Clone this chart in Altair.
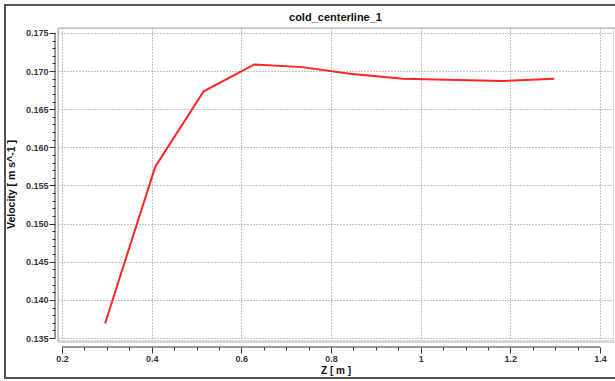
import altair as alt
import pandas as pd

# Centerline velocity samples along Z
z_m = [0.296, 0.408, 0.516, 0.629, 0.736, 0.842, 0.961, 1.181, 1.298]
velocity = [0.1369, 0.15747, 0.16735, 0.17087, 0.17052, 0.16966, 0.16901, 0.16869, 0.16901]

# Axis tick positions (major labelled ticks)
x_major = [0.2, 0.4, 0.6, 0.8, 1.0, 1.2, 1.4]
y_major = [0.135, 0.140, 0.145, 0.150, 0.155, 0.160, 0.165, 0.170, 0.175]

# minor ticks: 4 subdivisions on x, 5 on y
x_ticks = [round(x_major[0] + 0.05 * i, 2) for i in range(25)]
y_ticks = [round(y_major[0] + 0.001 * i, 3) for i in range(41)]

W, H = 555, 312
FONT = "Liberation Sans"
LABEL_COLOR = "#333344"

df = pd.DataFrame({"z": z_m, "v": velocity})

x_is_major = "abs(datum.value * 5 - round(datum.value * 5)) < 0.001"
y_is_major = "abs(datum.value * 200 - round(datum.value * 200)) < 0.001"

x_axis = alt.Axis(
    values=x_ticks,
    format="~g",
    labelExpr=f"{x_is_major} ? datum.label : ''",
    tickSize={"condition": {"test": x_is_major, "value": 6}, "value": 3},
    gridOpacity={"condition": {"test": x_is_major, "value": 1}, "value": 0},
    grid=True,
    gridColor="#888888",
    gridDash=[1, 2],
    gridWidth=1,
    domain=False,
    tickColor="#333333",
    offset=7,
    labelPadding=1,
    labelFont=FONT,
    labelFontSize=9,
    labelFontWeight="bold",
    labelColor=LABEL_COLOR,
    labelFlush=False,
    labelOverlap=False,
    title="Z [ m ]",
    titleFont=FONT,
    titleFontSize=10,
    titleFontWeight="bold",
    titleColor="#111111",
    titlePadding=2,
)

y_axis = alt.Axis(
    values=y_ticks,
    format=".3f",
    labelExpr=f"{y_is_major} ? datum.label : ''",
    tickSize={"condition": {"test": y_is_major, "value": 6}, "value": 3},
    gridOpacity={"condition": {"test": y_is_major, "value": 1}, "value": 0},
    grid=True,
    gridColor="#888888",
    gridDash=[1, 2],
    gridWidth=1,
    domain=False,
    tickColor="#333333",
    offset=3,
    labelPadding=1,
    labelFont=FONT,
    labelFontSize=9,
    labelFontWeight="bold",
    labelColor=LABEL_COLOR,
    labelFlush=False,
    labelOverlap=False,
    title="Velocity [ m s^-1 ]",
    titleFont=FONT,
    titleFontSize=10.5,
    titleFontWeight="bold",
    titleColor="#111111",
    titlePadding=9,
)

x_scale = alt.Scale(domain=[0.191, 1.429], nice=False, zero=False)
y_scale = alt.Scale(domain=[0.13474, 0.17565], nice=False, zero=False)

# outer window border (right side runs off the canvas)
outer = alt.Chart(alt.Data(values=[{}])).mark_rect(
    fill=None, fillOpacity=0, stroke="#555555", strokeWidth=2
).encode(
    x=alt.value(-53), x2=alt.value(W + 20),
    y=alt.value(-23), y2=alt.value(H + 38),
)

# light frame around the plotting area
frame = alt.Chart(alt.Data(values=[{}])).mark_rect(
    fill=None, fillOpacity=0, stroke="#aaaaaa", strokeWidth=1
).encode(
    x=alt.value(0), x2=alt.value(W + 10),
    y=alt.value(0), y2=alt.value(H + 2),
)

curve = alt.Chart(df).mark_line(color="#ff2424", strokeWidth=2).encode(
    x=alt.X("z:Q", scale=x_scale, axis=x_axis),
    y=alt.Y("v:Q", scale=y_scale, axis=y_axis),
)

# axis lines spanning the labelled tick range only
x_line = alt.Chart(pd.DataFrame({"z": [x_major[0]], "z2": [x_major[-1]]})).mark_rule(
    color="#333333", strokeWidth=1
).encode(x=alt.X("z:Q", scale=x_scale, axis=x_axis), x2="z2:Q", y=alt.value(H + 7))

y_line = alt.Chart(pd.DataFrame({"v": [y_major[0]], "v2": [y_major[-1]]})).mark_rule(
    color="#333333", strokeWidth=1
).encode(y=alt.Y("v:Q", scale=y_scale, axis=y_axis), y2="v2:Q", x=alt.value(-3))

chart = alt.layer(outer, frame, curve, x_line, y_line).properties(
    width=W,
    height=H,
    title=alt.TitleParams(
        "cold_centerline_1", font=FONT, fontSize=11, fontWeight="bold",
        color="#111111", anchor="middle", offset=0, dy=19, frame="group",
    ),
    autosize=alt.AutoSizeParams(type="none"),
    padding={"left": 58, "top": 28, "right": 2, "bottom": 41},
).configure_view(stroke=None).configure(background="white")

chart.save("out.html", embed_options={"renderer": "svg", "actions": False})
